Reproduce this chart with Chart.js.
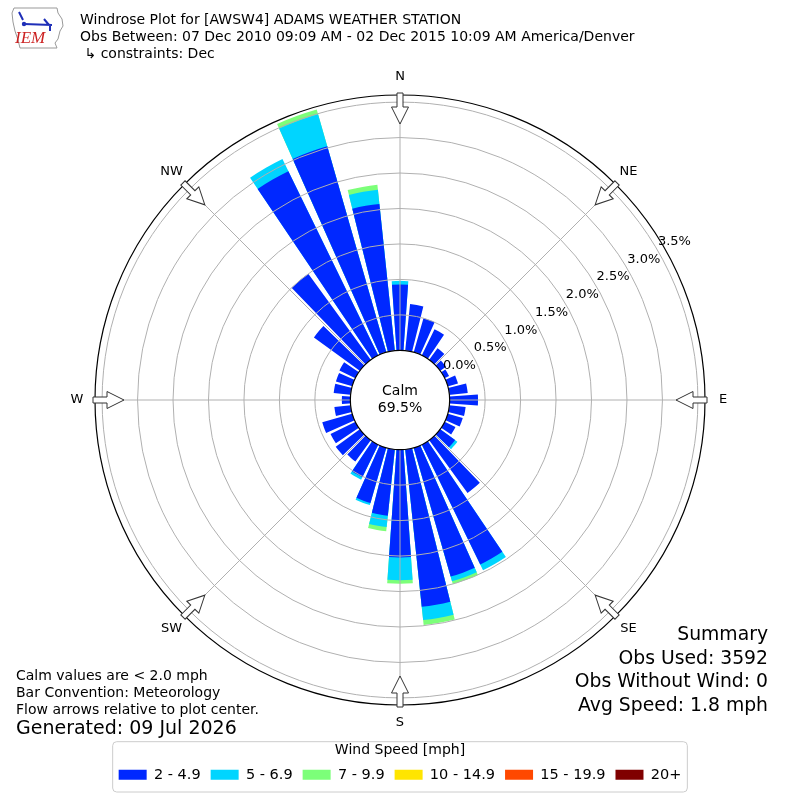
<!DOCTYPE html>
<html>
<head>
<meta charset="utf-8">
<title>Windrose Plot for [AWSW4] ADAMS WEATHER STATION</title>
<script src="https://cdn.jsdelivr.net/npm/chart.js@4.4.1/dist/chart.umd.min.js"></script>
<style>
  html, body { margin: 0; padding: 0; background: #fff; }
  #wrap { width: 800px; height: 800px; position: relative; }
</style>
</head>
<body>
<div id="wrap"><canvas id="windrose"></canvas></div>
<script>
// wind directions (deg, meteorological: from north, clockwise)
const directions = [0, 10, 20, 30, 40, 50, 60, 70, 80, 90, 100, 110, 120, 130, 140, 150, 160, 170,
                    180, 190, 200, 210, 220, 230, 240, 250, 260, 270, 280, 290, 300, 310, 320, 330, 340, 350];

const speedBins = ['2 - 4.9', '5 - 6.9', '7 - 9.9', '10 - 14.9', '15 - 19.9', '20+'];
const binColors = ['#0028ff', '#00d5ff', '#7cff79', '#ffe500', '#ff4800', '#800000'];

// frequency in % of all obs, per direction, for each speed bin
const freq2to5   = [0.93, 0.66, 0.50, 0.41, 0.20, 0.10, 0.07, 0.15, 0.26, 0.40, 0.23, 0.22,
                    0.17, 0.26, 0.92, 1.88, 1.89, 2.23, 1.52, 0.94, 0.81, 0.51, 0.37, 0.42,
                    0.39, 0.44, 0.23, 0.12, 0.24, 0.24, 0.25, 0.80, 1.50, 2.89, 3.02, 2.08];
const freq5to7   = [0.05, 0, 0, 0, 0, 0, 0, 0, 0, 0, 0, 0,
                    0, 0.04, 0, 0.09, 0.07, 0.19, 0.32, 0.16, 0.03, 0.04, 0, 0,
                    0, 0, 0, 0, 0, 0, 0, 0, 0, 0.19, 0.47, 0.20];
const freq7to10  = [0, 0, 0, 0, 0, 0, 0, 0, 0, 0, 0, 0,
                    0, 0, 0, 0, 0.04, 0.07, 0.05, 0.06, 0, 0, 0, 0,
                    0, 0, 0, 0, 0, 0, 0, 0, 0, 0, 0.07, 0.07];
const freq10to15 = [0, 0, 0, 0, 0, 0, 0, 0, 0, 0, 0, 0,
                    0, 0, 0, 0, 0, 0, 0, 0, 0, 0, 0, 0,
                    0, 0, 0, 0, 0, 0, 0, 0, 0, 0, 0, 0];
const freq15to20 = [0, 0, 0, 0, 0, 0, 0, 0, 0, 0, 0, 0,
                    0, 0, 0, 0, 0, 0, 0, 0, 0, 0, 0, 0,
                    0, 0, 0, 0, 0, 0, 0, 0, 0, 0, 0, 0];
const freq20up   = [0, 0, 0, 0, 0, 0, 0, 0, 0, 0, 0, 0,
                    0, 0, 0, 0, 0, 0, 0, 0, 0, 0, 0, 0,
                    0, 0, 0, 0, 0, 0, 0, 0, 0, 0, 0, 0];

// radial rings (%) and axis range
const ringTicks = [0, 0.5, 1, 1.5, 2, 2.5, 3, 3.5];
const rMin = -0.7;   // leaves room for the calm circle
const rMax = 3.6;

const compassLabels = ['N', 'NE', 'E', 'SE', 'S', 'SW', 'W', 'NW'];
const calmPct = 69.5;

const titleLines = [
    'Windrose Plot for [AWSW4] ADAMS WEATHER STATION',
    'Obs Between: 07 Dec 2010 09:09 AM - 02 Dec 2015 10:09 AM America/Denver',
    ' \u21b3 constraints: Dec'
];
const noteLines = ['Calm values are < 2.0 mph', 'Bar Convention: Meteorology', 'Flow arrows relative to plot center.'];
const generatedText = 'Generated: 09 Jul 2026';
const summaryLines = ['Summary', 'Obs Used: 3592', 'Obs Without Wind: 0', 'Avg Speed: 1.8 mph'];

const FONT = '"DejaVu Sans", "Noto Sans", sans-serif';
const barWidth = 8;   // degrees of the 10 degree sector
const gapWidth = 2;

// each sector = one bar slice + one empty gap slice
const bins = [freq2to5, freq5to7, freq7to10, freq10to15, freq15to20, freq20up];
let running = directions.map(() => 0);
const datasets = bins.map((bin, b) => {
    running = running.map((v, i) => v + bin[i]);
    const data = [], colors = [], angles = [];
    directions.forEach((d, i) => {
        data.push(running[i]);
        colors.push(bin[i] > 0 ? binColors[b] : 'rgba(0,0,0,0)');
        angles.push(barWidth);
        data.push(0);
        colors.push('rgba(0,0,0,0)');
        angles.push(gapWidth);
    });
    return {
        label: speedBins[b],
        data: data,
        backgroundColor: colors,
        angle: angles,
        borderWidth: 0
    };
});
const sliceLabels = [];
directions.forEach(d => { sliceLabels.push(d + '\u00b0'); sliceLabels.push(''); });

function polar(cx, cy, r, deg) {
    const a = deg * Math.PI / 180;
    return [cx + r * Math.sin(a), cy - r * Math.cos(a)];
}

const decorPlugin = {
    id: 'windroseDecor',
    afterDraw(chart) {
        const ctx = chart.ctx;
        const scale = chart.scales.r;
        const cx = scale.xCenter, cy = scale.yCenter;
        const r0 = scale.getDistanceFromCenterForValue(0);
        const rOut = scale.getDistanceFromCenterForValue(rMax);
        ctx.save();

        // angle lines every 45 degrees, on top of the bars
        ctx.strokeStyle = '#b0b0b0';
        ctx.lineWidth = 1;
        compassLabels.forEach((lab, k) => {
            const p1 = polar(cx, cy, r0, k * 45);
            const p2 = polar(cx, cy, rOut, k * 45);
            ctx.beginPath();
            ctx.moveTo(p1[0], p1[1]);
            ctx.lineTo(p2[0], p2[1]);
            ctx.stroke();
        });

        // calm circle
        ctx.beginPath();
        ctx.arc(cx, cy, r0, 0, Math.PI * 2);
        ctx.fillStyle = '#fff';
        ctx.fill();
        ctx.strokeStyle = '#000';
        ctx.lineWidth = 1.2;
        ctx.stroke();
        ctx.fillStyle = '#000';
        ctx.font = '14px ' + FONT;
        ctx.textAlign = 'center';
        ctx.textBaseline = 'middle';
        ctx.fillText('Calm', cx, cy - 9);
        ctx.fillText(calmPct.toFixed(1) + '%', cx, cy + 8);

        // ring labels along 60 deg
        ctx.font = '13px ' + FONT;
        ringTicks.forEach(v => {
            const p = polar(cx, cy, scale.getDistanceFromCenterForValue(v) + 19, 60);
            ctx.fillText(v.toFixed(1) + '%', p[0], p[1]);
        });

        // compass arrows and labels
        compassLabels.forEach((lab, k) => {
            const deg = k * 45;
            ctx.save();
            ctx.translate(cx, cy);
            ctx.rotate(deg * Math.PI / 180);
            ctx.beginPath();
            ctx.moveTo(-3, -(rOut + 2));
            ctx.lineTo(3, -(rOut + 2));
            ctx.lineTo(3, -(rOut - 12));
            ctx.lineTo(8.5, -(rOut - 12));
            ctx.lineTo(0, -(rOut - 29));
            ctx.lineTo(-8.5, -(rOut - 12));
            ctx.lineTo(-3, -(rOut - 12));
            ctx.closePath();
            ctx.fillStyle = '#fff';
            ctx.fill();
            ctx.strokeStyle = '#333';
            ctx.lineWidth = 1;
            ctx.stroke();
            ctx.restore();
            const p = polar(cx, cy, rOut + 18, deg);
            ctx.fillStyle = '#000';
            ctx.font = '13px ' + FONT;
            ctx.fillText(lab, p[0], p[1]);
        });

        // legend frame
        const lg = chart.legend;
        if (lg && lg.legendHitBoxes.length) {
            const boxes = lg.legendHitBoxes;
            const left = Math.min(...boxes.map(h => h.left)) - 6;
            const right = Math.max(...boxes.map(h => h.left + h.width)) + 6;
            ctx.beginPath();
            ctx.roundRect(left, lg.top + 2, right - left, lg.height - 2, 4);
            ctx.strokeStyle = '#cccccc';
            ctx.lineWidth = 1;
            ctx.stroke();
        }

        // header
        ctx.textAlign = 'left';
        ctx.textBaseline = 'middle';
        ctx.fillStyle = '#000';
        ctx.font = '14px ' + FONT;
        titleLines.forEach((t, i) => ctx.fillText(t, 80, 20 + i * 17));

        // IEM logo (simplified)
        ctx.beginPath();
        const iowa = [[14, 8], [57, 8], [58, 13], [62, 19], [63, 26], [60, 31], [58, 39], [55, 43], [57, 48],
                      [20, 48], [18, 40], [15, 31], [13, 22], [12, 13]];
        iowa.forEach((p, i) => i ? ctx.lineTo(p[0], p[1]) : ctx.moveTo(p[0], p[1]));
        ctx.closePath();
        ctx.strokeStyle = '#999';
        ctx.lineWidth = 1;
        ctx.stroke();
        ctx.strokeStyle = '#1f2fb8';
        ctx.lineWidth = 2;
        ctx.beginPath();
        ctx.moveTo(24, 24); ctx.lineTo(52, 25);
        ctx.moveTo(44, 19); ctx.lineTo(49, 25);
        ctx.moveTo(50, 25); ctx.lineTo(50, 31);
        ctx.moveTo(19, 12); ctx.lineTo(23, 20);
        ctx.stroke();
        ctx.fillStyle = '#1f2fb8';
        ctx.beginPath(); ctx.arc(24, 24, 2.2, 0, Math.PI * 2); ctx.fill();
        ctx.fillStyle = '#cc2222';
        ctx.font = 'italic 17px "Liberation Serif", serif';
        ctx.fillText('IEM', 15, 39);

        // notes, bottom left
        ctx.fillStyle = '#000';
        ctx.font = '14px ' + FONT;
        noteLines.forEach((t, i) => ctx.fillText(t, 16, 676 + i * 17));
        ctx.font = '19px ' + FONT;
        ctx.fillText(generatedText, 16, 729);

        // summary, bottom right
        ctx.textAlign = 'right';
        ctx.font = '18.8px ' + FONT;
        summaryLines.forEach((t, i) => ctx.fillText(t, 768, 635 + i * 23.7));
        ctx.restore();
    }
};

new Chart(document.getElementById('windrose').getContext('2d'), {
    type: 'polarArea',
    data: {
        labels: sliceLabels,
        datasets: datasets
    },
    options: {
        responsive: true,
        maintainAspectRatio: false,
        animation: false,
        events: [],
        layout: {
            padding: { left: 95, right: 95, top: 61, bottom: 8 }
        },
        plugins: {
            tooltip: { enabled: false },
            legend: {
                position: 'bottom',
                onClick: null,
                title: {
                    display: true,
                    text: 'Wind Speed [mph]',
                    color: '#000',
                    font: { family: FONT, size: 14 },
                    padding: { top: 4, bottom: -3 }
                },
                labels: {
                    color: '#000',
                    font: { family: FONT, size: 14.5 },
                    boxWidth: 28,
                    boxHeight: 10,
                    padding: 10,
                    generateLabels: function () {
                        return speedBins.map((name, i) => ({
                            text: name,
                            fillStyle: binColors[i],
                            strokeStyle: binColors[i],
                            lineWidth: 0,
                            hidden: false,
                            datasetIndex: i
                        }));
                    }
                }
            }
        },
        scales: {
            r: {
                min: rMin,
                max: rMax,
                startAngle: -barWidth / 2,
                ticks: { display: false },
                afterBuildTicks: function (scale) {
                    scale.ticks = ringTicks.concat([rMax]).map(v => ({ value: v }));
                },
                grid: {
                    circular: true,
                    z: 1,
                    color: c => (c.tick && c.tick.value === rMax) ? '#000' : '#b0b0b0',
                    lineWidth: c => (c.tick && c.tick.value === rMax) ? 1.2 : 1
                },
                angleLines: { display: false },
                pointLabels: { display: false },
                border: { display: false }
            }
        }
    },
    plugins: [decorPlugin]
});
</script>
</body>
</html>
